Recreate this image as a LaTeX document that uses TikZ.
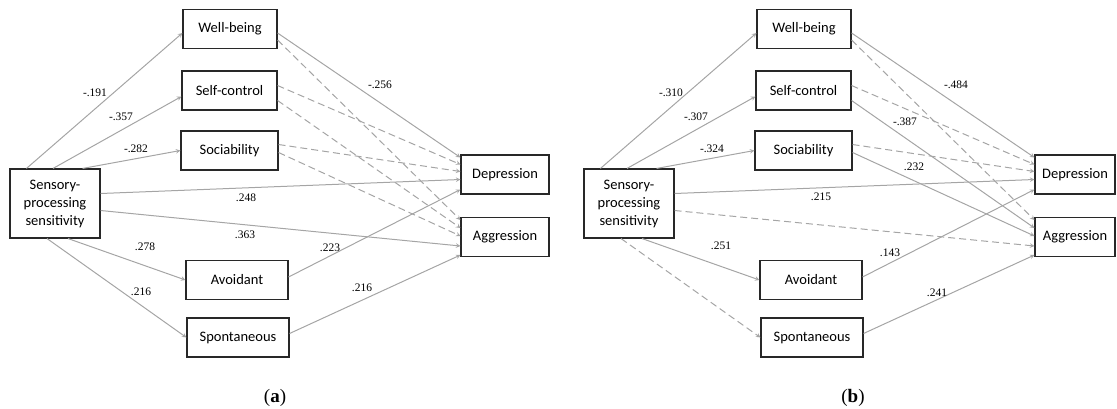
\documentclass[tikz,border=0pt]{standalone}
\usepackage{fontspec}
\setmainfont{Liberation Serif}
\newfontfamily\varfont{Carlito}
\usetikzlibrary{arrows}
\definecolor{linegray}{RGB}{165,165,165}
\definecolor{boxgray}{RGB}{40,40,40}
\tikzstyle{var} = [draw=boxgray, line width=1.1pt, minimum height=39pt, inner sep=2pt, align=center, font=\varfont\fontsize{14.5}{18}\selectfont]
\tikzstyle{effect} = [line width=1pt, ->, >=stealth, color=linegray]
\tikzstyle{ns} = [effect, dash pattern=on 7pt off 4pt]
\tikzstyle{coef} = [font=\fontsize{11.5}{12}\selectfont, inner sep=1pt]
\tikzstyle{panel} = [font=\fontsize{19}{22}\selectfont]

\begin{document}
\begin{tikzpicture}[x=1pt, y=-1pt]
\useasboundingbox (0,0) rectangle (1117,408);

% Panel (a)
\node[var, minimum width=90pt, minimum height=69pt] (sps) at (55,203.5) {Sensory-\\processing\\sensitivity};
\node[var, minimum width=94pt] (wb) at (230,29) {Well-being};
\node[var, minimum width=95pt] (sc) at (229.5,90.5) {Self-control};
\node[var, minimum width=97pt] (so) at (229.5,150.5) {Sociability};
\node[var, minimum width=102pt] (avo) at (237,280) {Avoidant};
\node[var, minimum width=102pt] (spo) at (238,337.5) {Spontaneous};
\node[var, minimum width=88pt] (dep) at (505,174.5) {Depression};
\node[var, minimum width=88pt] (agg) at (505,237) {Aggression};

\draw[effect] ([xshift=17pt]sps.north west) -- ([yshift=-4pt]wb.west);
\draw[effect] ([xshift=-2pt]sps.north) -- ([yshift=-6pt]sc.west);
\draw[effect] ([xshift=-18pt]sps.north east) -- (so.west);
\draw[effect] ([yshift=10pt]sps.east) -- ([yshift=-5pt]dep.west);
\draw[effect] ([yshift=-7pt]sps.east) -- ([yshift=-9pt]agg.west);
\draw[effect] ([xshift=13pt]sps.south) -- (avo.west);
\draw[effect] ([xshift=-8pt]sps.south) -- (spo.west);
\draw[effect] ([yshift=-4pt]wb.east) -- ([yshift=17pt]dep.west);
\draw[ns] ([yshift=-11pt]wb.east) -- ([yshift=17pt]agg.west);
\draw[ns] ([yshift=5pt]sc.east) -- ([yshift=10pt]dep.west);
\draw[ns] ([yshift=-10pt]sc.east) -- ([yshift=9pt]agg.west);
\draw[ns] ([yshift=6pt]so.east) -- ([yshift=3pt]dep.west);
\draw[ns] ([yshift=-2pt]so.east) -- ([yshift=1pt]agg.west);
\draw[effect] ([yshift=3pt]avo.east) -- ([yshift=-15pt]dep.west);
\draw[effect] ([yshift=4pt]spo.east) -- ([yshift=-18pt]agg.west);

\node[coef] (a1) at (95,93) {-.191};
\node[coef] (a2) at (121,117) {-.357};
\node[coef] (a3) at (136,149) {-.282};
\node[coef] (a4) at (246,198) {.248};
\node[coef] (a5) at (245,235) {.363};
\node[coef] (a6) at (145,247) {.278};
\node[coef] (a7) at (141,292) {.216};
\node[coef] (a8) at (380,85) {-.256};
\node[coef] (a9) at (330,248) {.223};
\node[coef] (a10) at (362,288) {.216};
\node[panel] (lbla) at (275,398) {(\textbf{a})};

% Panel (b)
\begin{scope}[xshift=574pt]
\node[var, minimum width=90pt, minimum height=69pt] (bsps) at (55,203.5) {Sensory-\\processing\\sensitivity};
\node[var, minimum width=94pt] (bwb) at (230,29) {Well-being};
\node[var, minimum width=95pt] (bsc) at (229.5,90.5) {Self-control};
\node[var, minimum width=97pt] (bso) at (229.5,150.5) {Sociability};
\node[var, minimum width=102pt] (bavo) at (237,280) {Avoidant};
\node[var, minimum width=102pt] (bspo) at (238,337.5) {Spontaneous};
\node[var, minimum width=80pt] (bdep) at (501,174.5) {Depression};
\node[var, minimum width=80pt] (bagg) at (501,237) {Aggression};

\draw[effect] ([xshift=17pt]bsps.north west) -- ([yshift=-4pt]bwb.west);
\draw[effect] ([xshift=-2pt]bsps.north) -- ([yshift=-6pt]bsc.west);
\draw[effect] ([xshift=-18pt]bsps.north east) -- (bso.west);
\draw[effect] ([yshift=10pt]bsps.east) -- ([yshift=-5pt]bdep.west);
\draw[ns] ([yshift=-7pt]bsps.east) -- ([yshift=-9pt]bagg.west);
\draw[effect] ([xshift=13pt]bsps.south) -- (bavo.west);
\draw[ns] ([xshift=-8pt]bsps.south) -- (bspo.west);
\draw[effect] ([yshift=-4pt]bwb.east) -- ([yshift=17pt]bdep.west);
\draw[ns] ([yshift=-11pt]bwb.east) -- ([yshift=17pt]bagg.west);
\draw[ns] ([yshift=5pt]bsc.east) -- ([yshift=10pt]bdep.west);
\draw[effect] ([yshift=-10pt]bsc.east) -- ([yshift=9pt]bagg.west);
\draw[ns] ([yshift=6pt]bso.east) -- ([yshift=3pt]bdep.west);
\draw[effect] ([yshift=-2pt]bso.east) -- ([yshift=1pt]bagg.west);
\draw[effect] ([yshift=3pt]bavo.east) -- ([yshift=-15pt]bdep.west);
\draw[effect] ([yshift=4pt]bspo.east) -- ([yshift=-18pt]bagg.west);

\node[coef] (b1) at (97,93) {-.310};
\node[coef] (b2) at (122,117) {-.307};
\node[coef] (b3) at (138,149) {-.324};
\node[coef] (b4) at (247,197) {.215};
\node[coef] (b5) at (147,246) {.251};
\node[coef] (b6) at (382,85) {-.484};
\node[coef] (b7) at (331,122) {-.387};
\node[coef] (b8) at (340,167) {.232};
\node[coef] (b9) at (316,253) {.143};
\node[coef] (b10) at (363,293) {.241};
\node[panel] (lblb) at (279,398) {(\textbf{b})};
\end{scope}
\end{tikzpicture}
\end{document}
